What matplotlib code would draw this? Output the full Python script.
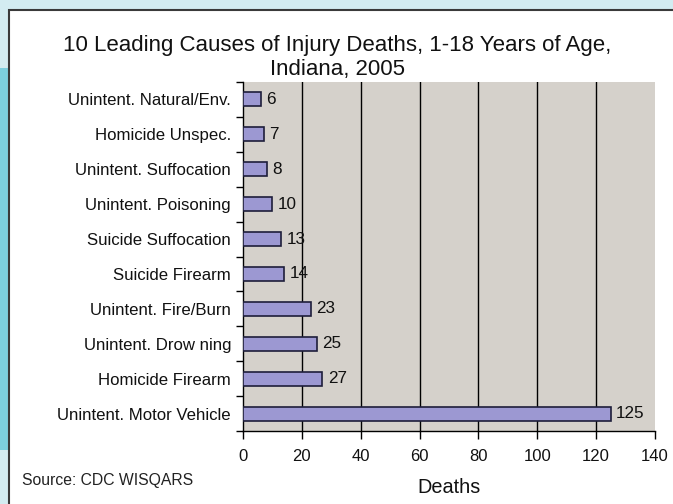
import matplotlib
matplotlib.use("Agg")
import matplotlib.pyplot as plt
from matplotlib.patches import Rectangle
from matplotlib.ticker import FixedLocator

causes = ["Unintent. Natural/Env.", "Homicide Unspec.", "Unintent. Suffocation",
          "Unintent. Poisoning", "Suicide Suffocation", "Suicide Firearm",
          "Unintent. Fire/Burn", "Unintent. Drow ning", "Homicide Firearm",
          "Unintent. Motor Vehicle"]
deaths = [6, 7, 8, 10, 13, 14, 23, 25, 27, 125]
xticks = [0, 20, 40, 60, 80, 100, 120, 140]

plt.rcParams['font.family'] = ['Liberation Sans', 'DejaVu Sans']

W, H = 673, 504
fig = plt.figure(figsize=(W / 100, H / 100), dpi=100, facecolor='#d3ecf1')

# decorative background
fig.patches.append(Rectangle((0, (H - 450) / H), 9 / W, (450 - 68) / H,
                             transform=fig.transFigure, facecolor='#7dcfde',
                             edgecolor='none', zorder=-2))
fig.patches.append(Rectangle((9 / W, -0.05), 1.1, (H - 10) / H + 0.05,
                             transform=fig.transFigure, facecolor='white',
                             edgecolor='#3a3a3a', linewidth=1.5, zorder=-1))

ax = fig.add_axes([243 / W, (H - 431) / H, (655 - 243) / W, (431 - 82) / H])
ax.set_zorder(2)
ax.set_facecolor('#d5d1cb')

ypos = list(range(len(causes)))
bars = ax.barh(ypos, deaths, height=0.4, color='#9c98d2', edgecolor='#1e1e3a',
               linewidth=1.2, zorder=3)
for y, v in zip(ypos, deaths):
    ax.text(v + 1.8, y, str(v), va='center', ha='left', fontsize=12.3, color='#111111')

ax.set_ylim(len(causes) - 0.5, -0.5)
ax.set_xlim(xticks[0], xticks[-1])
ax.set_yticks(ypos)
ax.set_yticklabels(causes, fontsize=12.1, color='#111111')
ax.yaxis.set_minor_locator(FixedLocator([i - 0.5 for i in range(len(causes) + 1)]))
ax.tick_params(axis='y', which='major', length=0, pad=8.6)
ax.tick_params(axis='y', which='minor', length=5, width=1, color='black', direction='out')

ax.set_xticks(xticks)
ax.set_xticklabels([str(t) for t in xticks], fontsize=12, color='#111111')
ax.tick_params(axis='x', length=6, width=1, color='black', pad=7)
ax.xaxis.grid(True, color='black', linewidth=1.0, zorder=1)
ax.set_axisbelow(True)
gl = ax.get_xgridlines()
gl[0].set_visible(False)
gl[-1].set_visible(False)

for s in ['top', 'right']:
    ax.spines[s].set_visible(False)
for s in ['left', 'bottom']:
    ax.spines[s].set_color('black')
    ax.spines[s].set_linewidth(1.0)

ax.set_xlabel('Deaths', fontsize=14.3, color='#111111', labelpad=10)

fig.text(337 / W, 1 - 45 / H, '10 Leading Causes of Injury Deaths, 1-18 Years of Age,',
         ha='center', va='center', fontsize=16, color='#111111')
fig.text(337 / W, 1 - 69 / H, 'Indiana, 2005',
         ha='center', va='center', fontsize=16, color='#111111')
fig.text(22 / W, 1 - 480 / H, 'Source: CDC WISQARS', ha='left', va='center',
         fontsize=11.3, color='#222222')

fig.savefig('out.png', dpi=100, facecolor=fig.get_facecolor())
